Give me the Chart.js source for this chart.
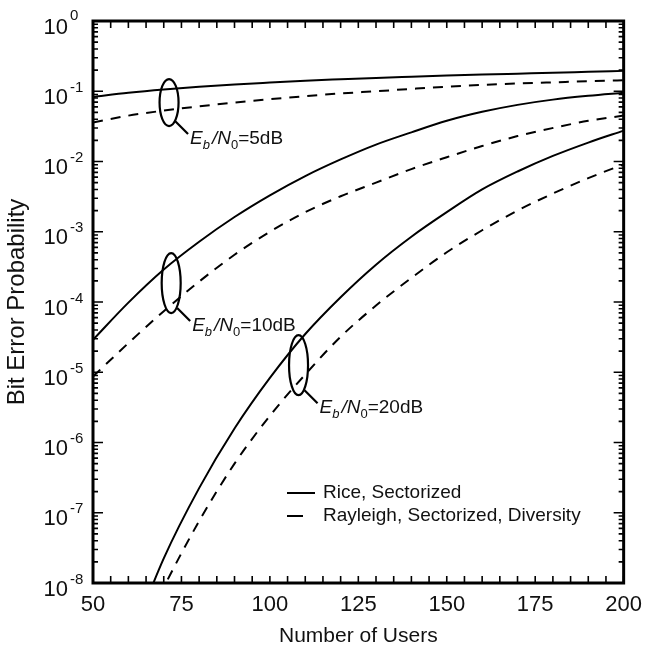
<!DOCTYPE html>
<html>
<head>
<meta charset="utf-8">
<title>Bit Error Probability vs Number of Users</title>
<script src="https://cdn.jsdelivr.net/npm/chart.js@4.4.1/dist/chart.umd.min.js"></script>
<style>
  html, body { margin: 0; padding: 0; background: #fff; }
  #wrap { width: 651px; height: 653px; }
</style>
</head>
<body>
<div id="wrap"><canvas id="ber" width="651" height="653"></canvas></div>
<script>
'use strict';

// Number of users (x axis)
const users = [50, 60, 70, 80, 90, 100, 110, 120, 130, 140, 150, 160, 170, 180, 190, 200];

// Bit error probability, Rice fading with sectorization (solid)
const rice5dB  = [0.083, 0.095, 0.106, 0.116, 0.125, 0.133, 0.141, 0.148, 0.155, 0.161, 0.167, 0.173, 0.178, 0.183, 0.189, 0.195];
const rice10dB = [2.9e-5, 9.8e-5, 2.9e-4, 7.2e-4, 1.62e-3, 3.3e-3, 6.2e-3, 1.07e-2, 1.74e-2, 2.6e-2, 3.8e-2, 5.1e-2, 6.4e-2, 7.6e-2, 8.6e-2, 9.5e-2];
const rice20dB = [null, 1.26e-9, 2.24e-8, 2.24e-7, 1.58e-6, 8.3e-6, 3.5e-5, 1.17e-4, 3.4e-4, 8.5e-4, 1.9e-3, 4.0e-3, 7.2e-3, 1.2e-2, 1.86e-2, 2.75e-2];

// Bit error probability, Rayleigh fading with sectorization and diversity (dashed)
const rayleigh5dB  = [0.036, 0.045, 0.053, 0.061, 0.069, 0.077, 0.085, 0.093, 0.100, 0.108, 0.116, 0.123, 0.129, 0.134, 0.139, 0.143];
const rayleigh10dB = [8.7e-6, 2.6e-5, 7.4e-5, 1.95e-4, 4.7e-4, 1.0e-3, 1.9e-3, 3.2e-3, 5.0e-3, 7.8e-3, 1.15e-2, 1.66e-2, 2.3e-2, 3.0e-2, 3.8e-2, 4.5e-2];
const rayleigh20dB = [null, 7.9e-10, 8.7e-9, 7.6e-8, 5.0e-7, 2.4e-6, 9.3e-6, 3.2e-5, 8.9e-5, 2.2e-4, 5.1e-4, 1.05e-3, 2.0e-3, 3.5e-3, 5.8e-3, 9.1e-3];

// Axis ranges and tick labels
const xTicks = [50, 75, 100, 125, 150, 175, 200];
const yExponents = [0, -1, -2, -3, -4, -5, -6, -7, -8];

const legendLabels = ['Rice, Sectorized', 'Rayleigh, Sectorized, Diversity'];
const snrLabels = ['5', '10', '20'];

const FONT = '"Liberation Sans", Arial, Helvetica, sans-serif';
const INK = '#111';
const DASH = [10, 8];

// E_b/N_0 callouts: ellipse centre in data units, vertical radius in px
const callouts = [
  { db: snrLabels[0], x: 71.5,  y: 0.069,   ry: 23.5 },
  { db: snrLabels[1], x: 72.1,  y: 1.86e-4, ry: 30 },
  { db: snrLabels[2], x: 108.1, y: 1.26e-5, ry: 30 }
];

function toPoints(values) {
  return users
    .map((u, i) => ({ x: u, y: values[i] }))
    .filter(p => p.y !== null);
}

function curve(values, dashed) {
  return {
    data: toPoints(values),
    borderColor: '#000',
    borderWidth: 2,
    borderDash: dashed ? DASH : [],
    pointRadius: 0,
    fill: false,
    cubicInterpolationMode: 'monotone'
  };
}

// Frame with inward ticks, superscript y labels, legend and callouts
const decorations = {
  id: 'decorations',
  afterDraw(chart) {
    const { ctx, chartArea: a, scales: { x, y } } = chart;
    ctx.save();
    ctx.strokeStyle = '#000';
    ctx.fillStyle = INK;

    // tick marks on all four sides
    ctx.lineWidth = 1.6;
    ctx.beginPath();
    for (let u = x.min; u <= x.max; u += 5) {
      const px = x.getPixelForValue(u);
      ctx.moveTo(px, a.bottom); ctx.lineTo(px, a.bottom - 7);
      ctx.moveTo(px, a.top); ctx.lineTo(px, a.top + 7);
    }
    for (let e = -8; e <= 0; e++) {
      for (let m = 1; m <= 9; m++) {
        const v = m * Math.pow(10, e);
        if (v > 1) break;
        const py = y.getPixelForValue(v);
        const len = m === 1 ? 10 : 5;
        ctx.moveTo(a.left, py); ctx.lineTo(a.left + len, py);
        ctx.moveTo(a.right, py); ctx.lineTo(a.right - len, py);
      }
    }
    ctx.stroke();

    ctx.lineWidth = 3;
    ctx.strokeRect(a.left, a.top, a.width, a.height);

    // y tick labels as 10 with a raised exponent
    yExponents.forEach(e => {
      const py = y.getPixelForValue(Math.pow(10, e));
      ctx.font = '22px ' + FONT;
      ctx.textAlign = 'right';
      ctx.textBaseline = 'alphabetic';
      ctx.fillText('10', a.left - 25, py + 12.5);
      ctx.font = '15px ' + FONT;
      ctx.textAlign = 'left';
      ctx.fillText(String(e), a.left - 23, py + (e === 0 ? -1 : 0.5));
    });

    // y axis title
    ctx.save();
    ctx.translate(17, (a.top + a.bottom) / 2);
    ctx.rotate(-Math.PI / 2);
    ctx.font = '24px ' + FONT;
    ctx.textAlign = 'center';
    ctx.textBaseline = 'middle';
    ctx.fillText('Bit Error Probability', 0, 0);
    ctx.restore();

    // legend
    const lx = a.left + 194;
    const rows = [a.bottom - 90, a.bottom - 67];
    ctx.lineWidth = 2;
    legendLabels.forEach((label, i) => {
      ctx.setLineDash(i === 0 ? [] : [16, 12]);
      ctx.beginPath();
      ctx.moveTo(lx, rows[i]);
      ctx.lineTo(lx + 28, rows[i]);
      ctx.stroke();
      ctx.setLineDash([]);
      ctx.font = '19px ' + FONT;
      ctx.textAlign = 'left';
      ctx.textBaseline = 'middle';
      ctx.fillText(label, lx + 36, rows[i]);
    });

    // E_b/N_0 ellipses with leader lines
    ctx.textBaseline = 'alphabetic';
    callouts.forEach(c => {
      const cx = x.getPixelForValue(c.x);
      const cy = y.getPixelForValue(c.y);
      ctx.lineWidth = 2.2;
      ctx.beginPath();
      ctx.ellipse(cx, cy, 9.5, c.ry, 0, 0, Math.PI * 2);
      ctx.stroke();
      ctx.beginPath();
      ctx.moveTo(cx + 6, cy + c.ry - 5);
      ctx.lineTo(cx + 19, cy + c.ry + 8);
      ctx.stroke();
      drawSnrLabel(ctx, cx + 21, cy + c.ry + 18, c.db);
    });

    ctx.restore();
  }
};

function drawSnrLabel(ctx, x0, base, db) {
  const parts = [
    ['E', 'italic 19px', 0, 0],
    ['b', 'italic 13px', 5, 2],
    ['/', 'italic 19px', 0, 0],
    ['N', 'italic 19px', 0, 0],
    ['0', '13px', 5, 0],
    ['=' + db + 'dB', '19px', 0, 0]
  ];
  let cx = x0;
  ctx.textAlign = 'left';
  parts.forEach(([t, f, dy, gap]) => {
    ctx.font = f + ' ' + FONT;
    ctx.fillText(t, cx, base + dy);
    cx += ctx.measureText(t).width + gap;
  });
}

const chart = new Chart(document.getElementById('ber'), {
  type: 'line',
  data: {
    datasets: [
      curve(rice5dB, false),
      curve(rayleigh5dB, true),
      curve(rice10dB, false),
      curve(rayleigh10dB, true),
      curve(rice20dB, false),
      curve(rayleigh20dB, true)
    ]
  },
  options: {
    responsive: false,
    devicePixelRatio: 1,
    animation: false,
    layout: { padding: { top: 21, right: 21, left: 0, bottom: 0 } },
    plugins: {
      legend: { display: false },
      tooltip: { enabled: false }
    },
    scales: {
      x: {
        type: 'linear',
        min: 50,
        max: 200,
        afterBuildTicks: s => { s.ticks = xTicks.map(v => ({ value: v })); },
        afterFit: s => { s.height = 70; },
        grid: { display: false, drawTicks: false },
        border: { display: false },
        ticks: {
          color: INK,
          padding: 9,
          maxRotation: 0,
          font: { family: FONT, size: 22 }
        },
        title: {
          display: true,
          text: 'Number of Users',
          color: INK,
          font: { family: FONT, size: 21 }
        }
      },
      y: {
        type: 'logarithmic',
        min: 1e-8,
        max: 1,
        afterFit: s => { s.width = 93; },
        grid: { display: false, drawTicks: false },
        border: { display: false },
        ticks: { callback: () => '' }
      }
    }
  },
  plugins: [decorations]
});
</script>
</body>
</html>
